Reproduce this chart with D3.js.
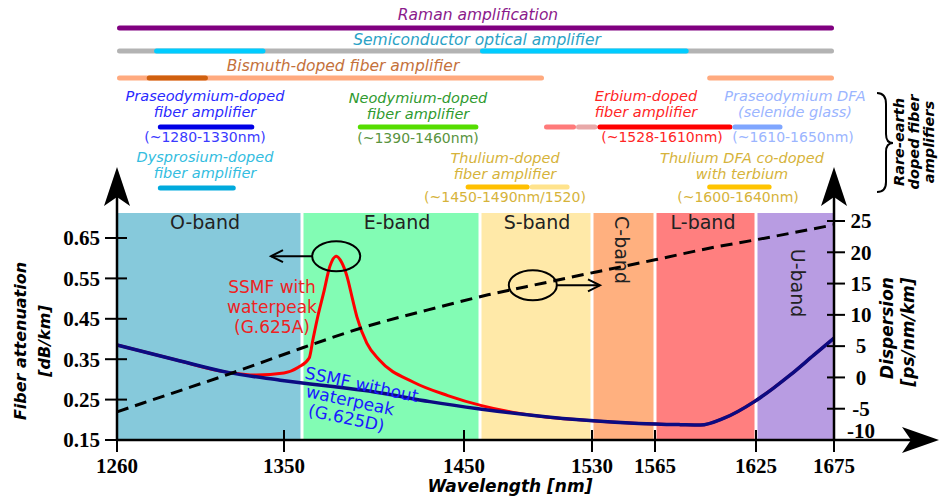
<!DOCTYPE html>
<html><head><meta charset="utf-8">
<script src="https://cdn.jsdelivr.net/npm/d3@7"></script>
<style>body{margin:0;background:#fff} svg{display:block}</style>
</head><body><svg id="c" width="940" height="499"></svg>
<script>
// ---------- data ----------
const xTicks = [1260, 1350, 1450, 1530, 1565, 1625, 1675];
const attTicks = [0.15, 0.25, 0.35, 0.45, 0.55, 0.65];
const dispTicks = [-10, -5, 0, 5, 10, 15, 20, 25];
const bandNames = ["O-band", "E-band", "S-band", "C-band", "L-band", "U-band"];
const bandEdges = [1260, 1360, 1460, 1530, 1565, 1625, 1675];

const waveG625D = [1260,1292,1319,1348,1403,1431,1460,1522,1556,1580,1592,1606,1624,1636,1647,1662,1675];
const attG625D  = [0.385,0.348,0.318,0.298,0.267,0.245,0.227,0.2,0.191,0.188,0.187,0.204,0.245,0.278,0.311,0.36,0.402];

const waveG625A = [1260,1292,1319,1335,1350,1358,1364,1366,1369,1372,1375.5,1379,1382,1385,1388,1390.5,1396,1403,1422,1441,1461,1480,1501,1522,1556,1580,1592,1606,1624,1636,1647,1662,1675];
const attG625A  = [0.385,0.348,0.318,0.311,0.316,0.33,0.353,0.397,0.46,0.514,0.58,0.605,0.59,0.555,0.5,0.455,0.39,0.348,0.293,0.26,0.235,0.219,0.207,0.2,0.191,0.188,0.187,0.204,0.245,0.278,0.311,0.36,0.402];

const waveDisp = [1260,1290,1320,1360,1393,1430,1465,1500,1533,1565,1600,1625,1675];
const dispersion = [-5.5,-2.5,0.5,4.7,7.9,10.8,13.2,15.1,16.9,18.8,20.8,22.0,24.4];

// amplifier wavelength ranges (nm)
const ramanRange = [1260, 1675];
const soaRange = [1260, 1675];
const soaCoreRanges = [[1280, 1340], [1460, 1585]];
const bismuthRanges = [[1260, 1500], [1596, 1675]];
const bismuthCoreRange = [1276, 1309];
const prRange = [1282, 1334];
const dyRange = [1282, 1324];
const ndRange = [1391, 1459];
const tmRange = [1451, 1491];
const tmExtRange = [1491, 1516];
const erRange = [1533, 1611];
const erExtRanges = [[1500, 1520], [1520, 1533]];
const prSeRange = [1611, 1642];
const tmTbRange = [1596, 1635];

// ---------- scales ----------
const svg = d3.select("#c");
const x = d3.scaleLinear().domain(xTicks).range([117, 284, 464, 592, 655, 756, 834]);
const yA = d3.scaleLinear().domain([0.15, 0.65]).range([440, 238]);
const yD = d3.scaleLinear().domain([-10, 25]).range([440, 221]);
const SANS = "DejaVu Sans, Verdana, sans-serif";
const SERIF = "Liberation Serif, Times New Roman, serif";
const plotTop = 213, plotBot = 440;

// ---------- bands ----------
const bandColors = ["#86c9db", "#82fcb4", "#ffe9a8", "#ffb07f", "#ff7f7f", "#b89ce2"];
bandNames.forEach((b, i) => {
  const x0 = x(bandEdges[i]) + (i === 0 ? 0 : 1.5);
  const x1 = x(bandEdges[i + 1]) - (i === bandNames.length - 1 ? 0 : 1.5);
  svg.append("rect").attr("x", x0).attr("y", plotTop).attr("width", x1 - x0)
    .attr("height", plotBot - plotTop).attr("fill", bandColors[i]);
});
const bandLabelPos = {
  "O-band": [205, 229, 0], "E-band": [397, 229, 0], "S-band": [537, 229, 0],
  "L-band": [703, 229, 0], "C-band": [622, 250, 90], "U-band": [798, 283, 90]
};
bandNames.forEach(b => {
  const p = bandLabelPos[b];
  svg.append("text").attr("transform", `translate(${p[0]},${p[1]}) rotate(${p[2]})`)
    .attr("text-anchor", "middle").attr("dy", p[2] ? "0.35em" : 0)
    .attr("font-family", SANS).attr("font-size", 19).attr("fill", "#222").text(b);
});

// ---------- curves ----------
const lineA = d3.line().x(d => x(d[0])).y(d => yA(d[1])).curve(d3.curveMonotoneX);
const lineD = d3.line().x(d => x(d[0])).y(d => yD(d[1])).curve(d3.curveMonotoneX);
svg.append("path").attr("d", lineA(d3.zip(waveG625A, attG625A)))
  .attr("fill", "none").attr("stroke", "#ff0000").attr("stroke-width", 3);
svg.append("path").attr("d", lineA(d3.zip(waveG625D, attG625D)))
  .attr("fill", "none").attr("stroke", "#0b0b82").attr("stroke-width", 3.5);
svg.append("path").attr("d", lineD(d3.zip(waveDisp, dispersion)))
  .attr("fill", "none").attr("stroke", "#000").attr("stroke-width", 3)
  .attr("stroke-dasharray", "12,7");

// ellipses & arrows
const peakI = attG625A.indexOf(d3.max(attG625A));
const e1 = [x(waveG625A[peakI]), yA(attG625A[peakI])];
const e2w = 1493, e2 = [x(e2w), yD(d3.scaleLinear().domain(waveDisp).range(dispersion)(e2w))];
[e1, e2].forEach(c => svg.append("ellipse").attr("cx", c[0]).attr("cy", c[1])
  .attr("rx", 24).attr("ry", 15).attr("fill", "none").attr("stroke", "#000").attr("stroke-width", 2));
svg.append("line").attr("x1", e1[0] - 24).attr("y1", e1[1]).attr("x2", 271).attr("y2", e1[1])
  .attr("stroke", "#000").attr("stroke-width", 2);
svg.append("path").attr("d", `M283,${e1[1] - 6} L271,${e1[1]} L283,${e1[1] + 6}`)
  .attr("fill", "none").attr("stroke", "#000").attr("stroke-width", 2);
svg.append("line").attr("x1", e2[0] + 24).attr("y1", e2[1]).attr("x2", 600).attr("y2", e2[1])
  .attr("stroke", "#000").attr("stroke-width", 2);
svg.append("path").attr("d", `M588,${e2[1] - 6} L600,${e2[1]} L588,${e2[1] + 6}`)
  .attr("fill", "none").attr("stroke", "#000").attr("stroke-width", 2);

// curve annotations
const redLbl = svg.append("text").attr("font-family", SANS).attr("font-size", 17)
  .attr("fill", "#ee2222").attr("text-anchor", "middle");
["SSMF with", "waterpeak", "(G.625A)"].forEach((t, i) =>
  redLbl.append("tspan").attr("x", 272).attr("y", 293 + i * 20).text(t));
const bluLbl = svg.append("g").attr("transform", "translate(358,402) rotate(12)");
["SSMF without", "waterpeak", "(G.625D)"].forEach((t, i) =>
  bluLbl.append("text").attr("x", i === 0 ? 0 : -8).attr("y", -12 + i * 18)
    .attr("text-anchor", "middle").attr("font-family", SANS).attr("font-size", 17)
    .attr("fill", "#1a1aff").text(t));

// ---------- axes ----------
const ax = svg.append("g").attr("stroke", "#000").attr("stroke-width", 2.5);
ax.append("line").attr("x1", x(1260)).attr("x2", x(1260)).attr("y1", plotBot).attr("y2", 180);
ax.append("line").attr("x1", x(1675)).attr("x2", x(1675)).attr("y1", plotBot).attr("y2", 180);
ax.append("line").attr("x1", x(1260)).attr("x2", 925).attr("y1", plotBot).attr("y2", plotBot);
const arrowUp = (cx) => `M${cx},167 L${cx - 13},206 L${cx},197 L${cx + 13},206 Z`;
svg.append("path").attr("d", arrowUp(x(1260))).attr("fill", "#000");
svg.append("path").attr("d", arrowUp(x(1675))).attr("fill", "#000");
svg.append("path").attr("d", `M939,${plotBot} L902,${plotBot - 13} L911,${plotBot} L902,${plotBot + 13} Z`).attr("fill", "#000");

const tickG = svg.append("g").attr("stroke", "#000").attr("stroke-width", 2);
attTicks.forEach(t => tickG.append("line").attr("x1", x(1260) - 12).attr("x2", x(1260) + 10)
  .attr("y1", yA(t)).attr("y2", yA(t)));
dispTicks.filter(t => t > -10).forEach(t => tickG.append("line").attr("x1", x(1675) - 7).attr("x2", x(1675) + 11)
  .attr("y1", yD(t)).attr("y2", yD(t)));
xTicks.forEach(t => tickG.append("line").attr("x1", x(t)).attr("x2", x(t))
  .attr("y1", plotBot - 10).attr("y2", plotBot + 12));

svg.append("g").selectAll("text").data(attTicks).join("text")
  .attr("x", 100).attr("y", d => yA(d)).attr("dy", "0.35em").attr("text-anchor", "end")
  .attr("font-family", SERIF).attr("font-weight", "bold").attr("font-size", 21)
  .text(d => d3.format(".2f")(d));
svg.append("g").selectAll("text").data(dispTicks).join("text")
  .attr("x", 861).attr("y", d => yD(d) - (d === -10 ? 9 : 0)).attr("dy", "0.35em").attr("text-anchor", "middle")
  .attr("font-family", SERIF).attr("font-weight", "bold").attr("font-size", 21)
  .text(d => d);
svg.append("g").selectAll("text").data(xTicks).join("text")
  .attr("x", d => x(d)).attr("y", 473).attr("text-anchor", "middle")
  .attr("font-family", SERIF).attr("font-weight", "bold").attr("font-size", 21)
  .text(d => d);

// axis titles
const titleStyle = s => s.attr("font-family", SANS).attr("font-weight", "bold")
  .attr("font-style", "italic").attr("text-anchor", "middle").attr("fill", "#000");
svg.append("text").attr("x", 510).attr("y", 492).attr("font-size", 17).call(titleStyle).text("Wavelength [nm]");
svg.append("text").attr("transform", "translate(26,341) rotate(-90)").attr("font-size", 16).call(titleStyle).text("Fiber attenuation");
svg.append("text").attr("transform", "translate(50,341) rotate(-90)").attr("font-size", 16).call(titleStyle).text("[dB/km]");
svg.append("text").attr("transform", "translate(893,328) rotate(-90)").attr("font-size", 17).call(titleStyle).text("Dispersion");
svg.append("text").attr("transform", "translate(914,332) rotate(-90)").attr("font-size", 17).call(titleStyle).text("[ps/nm/km]");

// ---------- amplifier bars ----------
const bar = (r, y, color) => svg.append("line").attr("x1", x(r[0]) + 2.5).attr("x2", x(r[1]) - 2.5)
  .attr("y1", y).attr("y2", y).attr("stroke", color).attr("stroke-width", 5).attr("stroke-linecap", "round");
bar(ramanRange, 28, "#800080");
bar(soaRange, 51, "#b3b3b3");
soaCoreRanges.forEach(r => bar(r, 51, "#00ccff"));
bismuthRanges.forEach(r => bar(r, 78, "#ffaa7f"));
bar(bismuthCoreRange, 78, "#d0600f");
bar(prRange, 127, "#0000e6");
bar(dyRange, 188, "#00aadd");
bar(ndRange, 127, "#55dd00");
bar(tmExtRange, 187, "#ffe38c");
bar(tmRange, 187, "#ffc000");
bar(erExtRanges[0], 127, "#ff7a7a");
bar(erExtRanges[1], 127, "#e8a8a8");
bar(erRange, 127, "#ff0000");
bar(prSeRange, 127, "#7fa6ff");
bar(tmTbRange, 187, "#ffc400");

const label = (lines, cx, y0, color, italic, size) => {
  const t = svg.append("text").attr("font-family", SANS).attr("font-size", size || 14.5)
    .attr("font-style", italic ? "italic" : "normal").attr("fill", color).attr("text-anchor", "middle");
  lines.forEach((l, i) => t.append("tspan").attr("x", cx).attr("y", y0 + i * 15.5).text(l));
};
label(["Raman amplification"], 478, 20, "#8b1a8b", true, 15.5);
label(["Semiconductor optical amplifier"], 477, 45, "#2ba2c6", true, 15.5);
label(["Bismuth-doped fiber amplifier"], 343, 71, "#c4713b", true, 15.5);
label(["Praseodymium-doped", "fiber amplifier"], 205, 101, "#2a2aff", true);
label(["(~1280-1330nm)"], 205, 142, "#3a3aff", false, 14);
label(["Dysprosium-doped", "fiber amplifier"], 205, 162, "#33bde0", true);
label(["Neodymium-doped", "fiber amplifier"], 418, 103, "#2f9a2f", true);
label(["(~1390-1460nm)"], 418, 143, "#5a9440", false, 14);
label(["Thulium-doped", "fiber amplifier"], 505, 163, "#d6b33a", true);
label(["(~1450-1490nm/1520)"], 505, 202, "#d6b33a", false, 14);
label(["Erbium-doped", "fiber amplifier"], 646, 101, "#ff2525", true);
label(["(~1528-1610nm)"], 662, 142, "#ff2525", false, 14);
label(["Praseodymium DFA", "(selenide glass)"], 795, 101, "#9bb5ff", true);
label(["(~1610-1650nm)"], 793, 142, "#9bb5ff", false, 14);
label(["Thulium DFA co-doped", "with terbium"], 742, 163, "#d6b33a", true);
label(["(~1600-1640nm)"], 738, 202, "#d6b33a", false, 14);

// brace + rare-earth label
svg.append("path").attr("d", "M877,93 Q886,93 886,104 L886,134 Q886,143 893,143 Q886,143 886,152 L886,182 Q886,192 877,192")
  .attr("fill", "none").attr("stroke", "#000").attr("stroke-width", 2);
["Rare-earth", "doped fiber", "amplifiers"].forEach((t, i) =>
  svg.append("text").attr("transform", `translate(${904 + i * 15},142) rotate(-90)`)
    .attr("font-size", 14.5).call(titleStyle).text(t));
</script></body></html>
